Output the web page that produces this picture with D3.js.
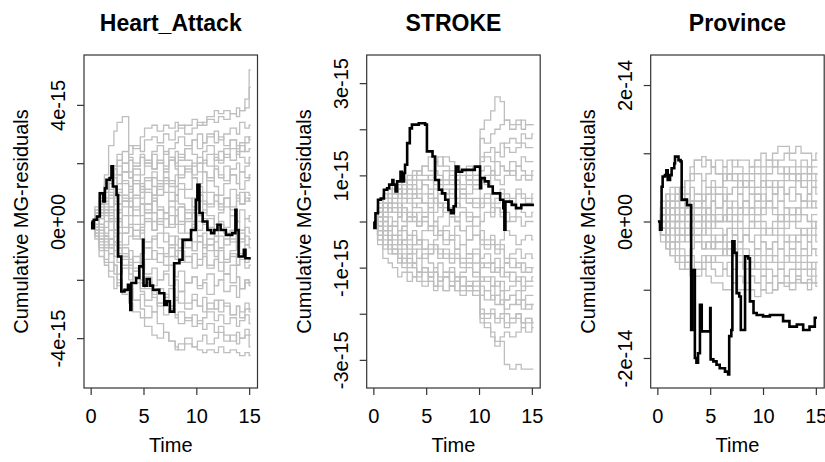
<!DOCTYPE html>
<html>
<head>
<meta charset="utf-8">
<script src="https://cdn.jsdelivr.net/npm/d3@7"></script>
<style>
  body { margin: 0; background: #fff; }
  text { font-family: "Liberation Sans", Arial, sans-serif; fill: #000; }
</style>
</head>
<body>
<svg id="chart" width="825" height="462"></svg>
<script>
// Event times at which the simulated residual processes jump (one grid per covariate)
const heartTimes    = [0.1,0.4,0.8,1.3,1.7,2.2,2.5,3.0,3.6,4.0,4.7,5.1,5.8,6.3,6.9,7.4,8.0,8.3,8.9,9.6,10.1,10.6,11.0,11.7,12.1,12.6,13.2,13.8,14.1,14.6,15.0];
const strokeTimes   = [0.1,0.4,0.9,1.4,1.8,2.3,2.7,3.2,3.7,4.1,4.6,5.2,5.7,6.1,6.6,7.2,7.7,8.2,8.8,9.4,10.1,10.5,11.1,11.5,12.0,12.4,12.9,13.5,14.0,14.4,15.0];
const provinceTimes = [0.1,0.3,0.8,1.2,1.7,2.1,2.6,3.1,3.5,4.2,4.6,5.1,5.5,6.2,6.6,7.1,7.6,8.1,8.7,9.2,9.8,10.3,10.9,11.4,12.0,12.5,13.1,13.6,14.2,14.6,15.0];
const timeEnd = 15.15;

const xTicks = [0, 5, 10, 15];
const xTickLabels = ["0", "5", "10", "15"];

// ---- Heart_Attack (units of 1e-15) ----
const heartSims = [
  [0,0.4,1.0,1.6,2.6,3.1,3.4,3.6,2.2,2.0,2.3,2.1,1.8,2.0,2.4,2.2,1.9,2.1,2.5,2.3,2.0,2.4,2.6,2.3,2.1,2.5,2.8,2.6,2.4,2.7,2.9],
  [0,0.2,0.6,1.1,1.5,1.9,2.1,2.4,2.6,2.5,2.9,3.2,3.3,3.1,3.3,3.2,3.4,3.2,3.3,3.5,3.3,3.4,3.6,3.8,3.7,3.8,3.7,3.9,3.8,3.9,5.2],
  [0,0.3,0.7,1.2,1.4,1.8,1.6,2.0,2.3,2.6,2.4,2.8,2.9,2.7,3.0,2.8,3.1,3.3,3.0,3.2,3.4,3.3,3.5,3.4,3.6,3.5,3.7,3.6,3.8,4.2,4.6],
  [0,-0.1,0.3,0.8,1.3,1.6,1.9,1.7,2.1,1.9,2.2,2.0,2.4,2.6,2.3,2.5,2.7,2.9,2.6,2.8,3.0,2.7,2.9,3.1,2.8,3.0,3.2,3.0,3.4,3.2,3.3],
  [0,0.5,0.9,1.3,1.1,1.5,1.3,1.7,1.5,1.8,1.6,2.0,1.8,2.1,1.9,2.2,2.0,2.3,2.1,1.9,2.2,2.0,2.3,2.1,2.4,2.2,2.5,2.3,2.6,2.4,2.5],
  [0,0.2,0.5,0.3,0.8,1.2,1.0,1.4,1.2,1.6,1.3,1.1,1.5,1.3,1.7,1.4,1.2,1.6,1.8,1.5,1.3,1.7,1.5,1.9,1.6,1.4,1.8,2.0,1.7,1.9,2.0],
  [0,-0.2,0.1,0.4,0.2,0.6,0.9,0.7,1.1,0.8,1.2,1.0,0.7,1.1,1.4,1.2,0.9,1.3,1.1,1.5,1.2,1.0,1.4,1.2,0.9,1.3,1.6,1.3,1.1,1.4,1.5],
  [0,0.3,0.1,0.5,0.3,0.0,0.4,0.7,0.5,0.2,0.6,0.4,0.8,0.5,0.3,0.7,0.9,0.6,0.4,0.8,1.0,0.7,0.5,0.9,0.6,0.8,1.1,0.8,0.6,1.0,0.9],
  [0,0.1,-0.3,0.0,0.4,0.1,-0.2,0.2,0.5,0.2,-0.1,0.3,0.0,0.4,0.1,-0.2,0.2,0.5,0.1,0.3,0.0,0.4,0.2,-0.1,0.3,0.5,0.2,0.0,0.4,0.1,0.2],
  [0,-0.3,-0.1,-0.4,0.0,-0.3,0.1,-0.2,0.2,-0.1,-0.4,0.0,-0.3,0.1,-0.2,0.2,-0.1,-0.4,0.0,-0.2,0.2,-0.1,0.1,-0.3,0.0,-0.2,0.2,0.0,-0.3,0.1,0.0],
  [0,0.2,-0.2,-0.5,-0.3,-0.7,-0.4,-0.8,-0.5,-0.3,-0.6,-0.9,-0.6,-0.4,-0.7,-0.5,-0.8,-0.6,-0.9,-0.7,-0.5,-0.8,-1.0,-0.7,-0.5,-0.8,-0.6,-0.9,-0.7,-0.5,-0.6],
  [0,-0.4,-0.7,-0.5,-0.9,-1.2,-0.9,-1.3,-1.0,-1.4,-1.1,-0.9,-1.3,-1.1,-1.5,-1.2,-1.0,-1.4,-1.2,-1.6,-1.3,-1.1,-1.5,-1.3,-1.7,-1.4,-1.2,-1.5,-1.3,-1.6,-1.5],
  [0,-0.5,-0.9,-1.3,-1.1,-1.5,-1.8,-1.6,-2.0,-1.7,-2.1,-1.9,-2.2,-2.0,-1.8,-2.2,-2.0,-2.4,-2.1,-1.9,-2.3,-2.1,-2.5,-2.2,-2.0,-2.4,-2.2,-2.6,-2.3,-2.1,-2.2],
  [0,-0.6,-1.2,-1.5,-1.9,-2.3,-2.1,-2.5,-2.8,-3.1,-3.3,-3.6,-3.9,-4.0,-3.8,-4.1,-4.3,-4.4,-4.2,-4.3,-4.4,-4.5,-4.4,-4.5,-4.3,-4.5,-4.4,-4.5,-4.6,-4.5,-4.6],
  [0,-0.3,-0.8,-1.4,-1.7,-1.5,-2.0,-2.4,-2.2,-2.7,-3.0,-3.3,-3.1,-3.5,-3.8,-4.1,-4.4,-4.2,-4.0,-4.3,-4.1,-3.9,-4.2,-4.0,-3.8,-4.1,-3.9,-4.2,-4.0,-3.9,-4.3],
  [0,-0.2,-0.6,-1.0,-1.4,-1.8,-2.2,-2.5,-2.3,-2.7,-2.5,-2.9,-3.1,-2.8,-3.2,-3.0,-3.3,-3.1,-3.4,-3.2,-3.5,-3.3,-3.1,-3.4,-3.2,-3.5,-3.3,-3.6,-3.4,-3.2,-3.5],
  [0,0.1,-0.4,-0.8,-0.6,-1.0,-1.4,-1.2,-1.6,-1.9,-2.3,-2.1,-2.5,-2.3,-2.7,-2.9,-2.6,-2.8,-3.0,-2.7,-2.9,-3.1,-2.8,-3.0,-2.7,-2.9,-3.2,-2.9,-3.1,-2.8,-3.0],
  [0,-0.4,-0.2,-0.6,-0.9,-0.7,-1.1,-0.9,-1.3,-1.6,-1.4,-1.8,-1.6,-2.0,-1.7,-1.5,-1.9,-1.7,-2.1,-1.9,-2.2,-2.0,-1.8,-2.2,-2.0,-1.8,-2.1,-1.9,-2.3,-2.0,-2.1],
  [0,0.3,0.6,0.4,0.1,-0.3,0.0,-0.4,-0.2,-0.6,-0.3,-0.7,-0.5,-0.9,-1.2,-0.9,-1.3,-1.0,-1.4,-1.1,-1.5,-1.2,-1.6,-1.3,-1.0,-1.4,-1.1,-1.5,-1.2,-1.4,-1.3],
  [0,0.4,0.8,1.2,1.0,0.7,1.1,0.8,0.5,0.9,0.6,0.3,0.7,0.4,0.1,0.5,0.2,-0.1,0.3,0.0,-0.3,0.1,-0.2,-0.5,-0.1,-0.4,-0.7,-0.3,-0.6,-0.2,-0.4],
  [0,0.2,0.6,1.0,1.4,1.2,1.6,1.3,1.0,1.4,1.1,1.5,1.2,0.9,1.3,1.0,0.7,1.1,0.8,0.5,0.9,0.6,1.0,0.7,0.4,0.8,0.5,0.9,0.6,0.8,0.7],
  [0,-0.1,0.3,0.7,0.5,0.9,1.3,1.7,1.5,1.9,2.2,1.9,2.3,2.0,1.7,2.1,1.8,1.5,1.9,1.6,2.0,1.7,1.4,1.8,1.5,1.9,1.6,1.3,1.7,1.5,1.6],
  [0,0.3,-0.1,-0.5,-0.8,-0.5,-0.9,-1.2,-1.5,-1.2,-1.6,-1.3,-1.0,-1.4,-1.1,-0.8,-1.2,-0.9,-0.6,-1.0,-0.7,-0.4,-0.8,-0.5,-0.9,-0.6,-0.3,-0.7,-0.4,-0.8,-0.6],
  [0,-0.2,0.2,0.6,0.9,0.6,0.3,0.7,1.0,1.3,1.0,1.4,1.7,1.4,1.8,2.1,2.4,2.2,2.5,2.8,2.5,2.7,3.0,2.7,2.9,2.6,2.8,2.5,2.7,2.9,2.8],
  [0,-0.5,-1.0,-0.7,-1.1,-0.8,-1.2,-1.5,-1.8,-2.1,-2.4,-2.7,-2.4,-2.8,-2.5,-2.9,-3.2,-3.5,-3.3,-3.6,-3.4,-3.7,-3.5,-3.8,-3.6,-3.9,-4.1,-3.8,-4.0,-3.7,-3.9],
  [0,0.1,0.4,0.2,0.5,0.8,0.6,0.9,0.7,0.4,0.8,1.1,0.9,1.2,1.5,1.3,1.6,1.9,1.7,2.0,1.7,2.1,1.9,2.2,2.0,2.3,2.1,2.4,2.2,2.0,2.2],
  [0,-0.3,-0.6,-0.9,-0.6,-0.3,-0.7,-0.4,-0.1,-0.5,-0.2,0.1,-0.3,0.0,0.3,-0.1,0.2,0.5,0.1,0.4,0.7,0.3,0.6,0.9,0.5,0.8,0.4,0.7,1.0,0.7,0.8],
  [0,0.2,-0.1,0.3,0.0,-0.4,-0.8,-1.1,-1.4,-1.7,-2.0,-2.3,-2.6,-2.9,-2.6,-2.3,-2.7,-2.4,-2.8,-2.5,-2.9,-2.6,-3.0,-2.7,-3.1,-2.8,-3.2,-2.9,-3.3,-3.0,-3.1],
  [0,0.3,0.7,1.1,1.5,1.9,2.3,2.0,1.7,1.3,1.0,0.6,0.3,-0.1,-0.4,-0.8,-0.5,-0.9,-0.6,-1.0,-0.7,-1.1,-0.8,-1.2,-0.9,-1.3,-1.0,-0.7,-1.1,-0.8,-0.9],
  [0,-0.2,-0.5,-0.2,0.1,0.4,0.1,0.5,0.8,0.5,0.2,0.6,0.9,1.3,1.0,0.7,0.4,0.0,-0.4,-0.1,-0.5,-0.9,-0.6,-1.0,-1.4,-1.8,-1.5,-1.9,-2.3,-2.0,-2.1]
];
const heartObsTime  = [0.1,0.15,0.3,0.6,0.87,1.2,1.35,1.5,1.8,1.97,2.1,2.45,2.6,2.9,3.2,3.53,3.75,3.85,4.3,4.6,4.95,5.0,5.3,5.6,5.9,6.5,6.97,7.2,7.5,7.9,8.4,8.7,9.5,9.95,10.1,10.3,10.6,11.05,11.4,11.7,12.0,12.3,12.8,13.4,13.7,13.8,14.0,14.5,14.65,15.15];
const heartObsValue = [0,-0.23,0.06,0.17,0.97,0.69,1.14,1.43,1.49,1.89,1.2,0.91,-1.2,-2.4,-2.34,-2.17,-3.03,-2.11,-1.94,-1.54,-0.63,-2.2,-1.97,-2.2,-2.34,-2.46,-2.86,-2.74,-3.09,-1.43,-1.31,-0.63,-0.29,0.74,1.26,0.29,0,-0.29,-0.4,-0.29,-0.11,-0.29,-0.46,-0.4,0.4,-0.29,-1.2,-0.97,-1.26,-1.26];
const heartTicks = [-4, -2, 0, 2, 4];
const heartTickLabels = ["-4e-15", "", "0e+00", "", "4e-15"];

// ---- STROKE (units of 1e-15) ----
const strokeSims = [
  [0,0.3,0.5,0.7,0.6,0.8,0.9,0.8,1.0,1.1,1.2,1.4,1.3,1.2,1.4,1.3,1.2,1.1,1.2,1.0,2.0,2.2,2.4,2.7,2.6,2.2,2.1,2.2,2.0,2.1,2.1],
  [0,0.2,0.4,0.3,0.5,0.7,0.6,0.9,1.1,1.0,1.2,1.1,1.3,1.4,1.2,1.1,1.0,1.1,0.9,1.0,1.8,1.7,1.9,2.0,2.1,2.2,2.0,2.1,2.2,2.1,2.1],
  [0,0.1,0.3,0.5,0.4,0.6,0.5,0.7,0.8,0.6,0.9,1.0,0.8,0.9,1.1,0.9,0.8,1.0,0.9,0.8,1.4,1.5,1.6,1.5,1.7,1.6,1.5,1.6,1.7,1.6,1.6],
  [0,0.3,0.2,0.4,0.6,0.5,0.7,0.6,0.5,0.7,0.8,0.6,0.7,0.9,0.8,1.0,0.9,0.8,1.0,0.9,1.1,1.2,1.0,1.3,1.2,1.1,1.3,1.2,1.4,1.3,1.3],
  [0,-0.1,0.2,0.4,0.3,0.2,0.4,0.5,0.3,0.4,0.6,0.5,0.4,0.6,0.7,0.6,0.5,0.7,0.6,0.8,0.9,0.8,1.0,0.9,0.8,1.0,1.1,0.9,1.0,0.9,1.0],
  [0,0.2,0.1,0.3,0.2,0.1,0.3,0.2,0.4,0.3,0.2,0.4,0.5,0.3,0.4,0.2,0.3,0.5,0.4,0.3,0.5,0.6,0.4,0.5,0.7,0.6,0.5,0.7,0.6,0.5,0.6],
  [0,-0.2,0.0,0.1,-0.1,0.1,0.0,0.2,0.1,-0.1,0.1,0.2,0.0,0.1,0.3,0.1,0.0,0.2,0.1,-0.1,0.0,0.2,0.1,0.3,0.2,0.0,0.1,0.3,0.2,0.1,0.2],
  [0,0.1,-0.2,-0.1,-0.3,-0.2,-0.1,-0.3,-0.2,-0.4,-0.2,-0.1,-0.3,-0.2,-0.4,-0.3,-0.1,-0.2,-0.4,-0.3,-0.2,-0.4,-0.3,-0.5,-0.4,-0.2,-0.3,-0.5,-0.4,-0.3,-0.4],
  [0,-0.3,-0.2,-0.4,-0.3,-0.5,-0.4,-0.6,-0.5,-0.4,-0.6,-0.7,-0.5,-0.6,-0.8,-0.7,-0.6,-0.8,-0.7,-0.9,-0.8,-0.7,-0.9,-0.8,-1.0,-0.9,-0.8,-1.0,-0.9,-1.1,-1.0],
  [0,-0.4,-0.6,-0.5,-0.7,-0.9,-0.8,-1.0,-0.9,-1.1,-1.0,-1.2,-1.1,-1.3,-1.2,-1.1,-1.3,-1.2,-1.4,-1.3,-1.6,-1.7,-1.6,-1.8,-1.7,-1.9,-1.8,-1.7,-1.9,-1.8,-1.8],
  [0,-0.5,-0.8,-0.9,-1.0,-1.2,-1.1,-1.3,-1.2,-1.3,-1.4,-1.3,-1.5,-1.4,-1.5,-1.4,-1.5,-1.6,-1.5,-1.6,-2.2,-2.3,-2.5,-2.7,-2.6,-3.1,-3.2,-3.1,-3.2,-3.2,-3.2],
  [0,-0.2,-0.4,-0.6,-0.5,-0.7,-0.9,-0.8,-1.0,-1.2,-1.1,-1.3,-1.4,-1.3,-1.5,-1.4,-1.3,-1.5,-1.4,-1.5,-2.0,-2.1,-2.0,-2.2,-2.1,-2.3,-2.2,-2.1,-2.3,-2.2,-2.3],
  [0,-0.1,-0.3,-0.2,-0.4,-0.3,-0.5,-0.7,-0.6,-0.8,-0.7,-0.9,-1.0,-0.9,-1.1,-1.0,-1.2,-1.1,-1.0,-1.2,-1.4,-1.5,-1.4,-1.6,-1.5,-1.7,-1.6,-1.5,-1.7,-1.6,-1.6],
  [0,0.2,0.0,-0.2,-0.1,-0.3,-0.2,-0.4,-0.3,-0.5,-0.4,-0.6,-0.5,-0.7,-0.6,-0.8,-0.7,-0.9,-0.8,-0.7,-1.2,-1.3,-1.2,-1.4,-1.3,-1.5,-1.4,-1.3,-1.5,-1.4,-1.4],
  [0,0.3,0.4,0.2,0.3,0.1,0.2,0.0,0.1,-0.1,0.0,-0.2,-0.1,-0.3,-0.2,-0.4,-0.3,-0.5,-0.4,-0.3,-0.5,-0.6,-0.5,-0.7,-0.6,-0.8,-0.7,-0.6,-0.8,-0.7,-0.8],
  [0,0.4,0.6,0.5,0.7,0.6,0.8,0.7,0.6,0.5,0.4,0.3,0.5,0.4,0.2,0.3,0.1,0.2,0.0,0.1,0.4,0.5,0.3,0.4,0.6,0.5,0.4,0.6,0.5,0.4,0.5],
  [0,-0.3,-0.1,-0.3,-0.5,-0.4,-0.6,-0.5,-0.7,-0.6,-0.8,-0.7,-0.6,-0.8,-0.7,-0.9,-0.8,-1.0,-0.9,-1.1,-1.3,-1.2,-1.4,-1.3,-1.5,-2.0,-2.1,-2.0,-2.2,-2.1,-2.2],
  [0,0.1,0.3,0.2,0.4,0.3,0.5,0.4,0.6,0.5,0.4,0.6,0.5,0.7,0.6,0.5,0.7,0.6,0.5,0.4,0.9,1.0,1.1,1.0,1.2,1.1,1.0,1.2,1.1,1.0,1.1],
  [0,-0.2,-0.5,-0.4,-0.6,-0.8,-1.0,-1.1,-1.2,-1.1,-1.3,-1.2,-1.4,-1.3,-1.2,-1.4,-1.5,-1.4,-1.5,-1.4,-1.6,-1.5,-1.7,-1.6,-1.8,-1.7,-1.6,-1.8,-1.7,-1.9,-1.8],
  [0,0.3,0.5,0.6,0.8,0.7,0.6,0.8,0.7,0.9,0.8,0.7,0.9,0.8,0.6,0.7,0.5,0.6,0.4,0.5,0.3,0.4,0.2,0.3,0.1,0.2,0.0,0.1,-0.1,0.0,0.0],
  [0,0.0,-0.2,-0.4,-0.3,-0.5,-0.4,-0.3,-0.5,-0.4,-0.6,-0.5,-0.4,-0.3,-0.5,-0.4,-0.6,-0.5,-0.7,-0.6,-2.1,-2.2,-2.4,-2.6,-2.5,-2.4,-2.5,-2.4,-2.3,-2.4,-2.3],
  [0,0.2,0.4,0.3,0.2,0.4,0.3,0.1,0.2,0.0,0.1,-0.1,0.0,-0.2,-0.1,0.1,0.0,-0.2,-0.1,-0.3,-0.9,-1.0,-0.9,-1.1,-1.0,-1.2,-1.1,-1.3,-1.2,-1.3,-1.2],
  [0,-0.4,-0.3,-0.5,-0.7,-0.6,-0.8,-0.7,-0.9,-0.8,-1.0,-1.1,-1.0,-1.2,-1.1,-1.3,-1.2,-1.4,-1.3,-1.5,-1.0,-0.9,-1.1,-1.0,-1.2,-1.1,-1.3,-1.2,-1.4,-1.3,-1.3],
  [0,0.1,0.2,0.4,0.5,0.7,0.8,1.0,0.9,1.1,1.0,0.9,1.1,1.0,0.9,0.8,0.9,0.7,0.8,0.7,1.3,1.4,1.3,1.5,1.4,1.7,1.8,1.7,1.9,1.8,1.9],
  [0,-0.1,0.1,-0.1,0.0,-0.2,-0.1,0.1,0.0,0.2,0.1,0.3,0.2,0.4,0.3,0.2,0.4,0.3,0.2,0.1,-0.4,-0.5,-0.4,-0.6,-0.5,-0.9,-1.0,-0.9,-1.1,-1.0,-1.0],
  [0,-0.3,-0.5,-0.7,-0.6,-0.8,-0.7,-0.9,-1.0,-1.1,-1.0,-1.2,-1.1,-1.3,-1.2,-1.4,-1.3,-1.2,-1.4,-1.3,-1.9,-2.0,-1.9,-2.1,-2.0,-2.2,-2.1,-2.0,-2.2,-2.1,-2.2]
];
const strokeObsTime  = [0.06,0.1,0.2,0.44,0.7,1.0,1.3,1.5,1.8,1.9,2.1,2.25,2.57,2.7,2.9,3.0,3.2,3.45,3.65,4.3,4.9,5.07,5.6,5.85,6.2,6.5,6.8,7.1,7.35,7.6,7.8,8.05,8.4,9.6,10.1,10.2,10.55,10.9,11.3,12.0,12.3,12.4,12.5,13.1,13.5,14.0,15.2];
const strokeObsValue = [0,-0.14,0.18,0.47,0.5,0.69,0.72,0.8,0.9,0.8,0.65,0.87,1.08,0.87,1.05,1.23,1.7,2.02,2.1,2.13,2.1,1.52,1.41,0.9,0.69,0.61,0.47,0.25,0.18,0.33,1.19,1.08,1.12,1.19,0.72,0.94,0.87,0.76,0.61,0.47,0.29,-0.18,0.43,0.36,0.29,0.36,0.36];
const strokeTicks = [-3, -2, -1, 0, 1, 2, 3];
const strokeTickLabels = ["-3e-15", "", "-1e-15", "", "1e-15", "", "3e-15"];

// ---- Province (units of 1e-14) ----
const provinceSims = [
  [0,0.2,0.4,0.3,0.5,0.4,0.6,0.8,0.9,0.8,0.9,0.8,0.9,0.8,0.9,0.8,0.9,0.9,0.8,0.9,1.0,0.9,1.0,1.1,1.1,1.0,1.1,1.0,1.0,0.9,1.0],
  [0,0.1,0.3,0.4,0.3,0.5,0.4,0.6,0.7,0.6,0.7,0.8,0.7,0.8,0.7,0.9,0.8,0.7,0.8,0.9,0.8,0.9,0.8,0.9,1.0,0.9,0.8,0.9,0.8,0.9,0.9],
  [0,0.2,0.1,0.3,0.2,0.4,0.3,0.5,0.4,0.6,0.5,0.6,0.5,0.7,0.6,0.7,0.6,0.5,0.6,0.7,0.6,0.7,0.8,0.7,0.8,0.7,0.6,0.7,0.8,0.7,0.7],
  [0,-0.1,0.1,0.2,0.1,0.3,0.2,0.3,0.4,0.3,0.4,0.5,0.4,0.5,0.4,0.5,0.6,0.5,0.6,0.5,0.6,0.5,0.6,0.5,0.6,0.7,0.6,0.5,0.6,0.5,0.6],
  [0,0.1,0.0,0.2,0.1,0.0,0.2,0.1,0.3,0.2,0.1,0.3,0.2,0.4,0.3,0.2,0.4,0.3,0.2,0.4,0.3,0.5,0.4,0.3,0.4,0.5,0.4,0.3,0.4,0.5,0.4],
  [0,0.0,-0.1,0.1,0.0,0.1,-0.1,0.0,0.1,0.0,0.2,0.1,0.0,0.1,0.2,0.1,0.2,0.3,0.2,0.1,0.2,0.3,0.2,0.3,0.2,0.1,0.2,0.3,0.2,0.3,0.2],
  [0,-0.2,-0.1,0.0,-0.1,-0.2,-0.1,0.0,-0.1,0.1,0.0,-0.1,0.0,0.1,0.0,-0.1,0.0,0.1,0.0,0.1,0.0,-0.1,0.0,0.1,0.0,0.1,0.2,0.1,0.0,0.1,0.1],
  [0,-0.1,-0.2,-0.1,-0.3,-0.2,-0.3,-0.2,-0.1,-0.2,-0.1,-0.2,-0.3,-0.2,-0.1,-0.2,-0.1,-0.2,-0.1,0.0,-0.1,-0.2,-0.1,0.0,-0.1,0.0,-0.1,-0.2,-0.1,0.0,-0.1],
  [0,-0.2,-0.3,-0.4,-0.3,-0.4,-0.5,-0.4,-0.3,-0.4,-0.3,-0.4,-0.3,-0.2,-0.3,-0.4,-0.3,-0.2,-0.3,-0.2,-0.3,-0.4,-0.3,-0.2,-0.3,-0.2,-0.3,-0.2,-0.3,-0.2,-0.3],
  [0,-0.3,-0.4,-0.5,-0.6,-0.5,-0.6,-0.7,-0.6,-0.7,-0.6,-0.7,-0.8,-0.7,-0.8,-0.9,-0.8,-0.9,-0.8,-0.9,-0.8,-0.9,-0.8,-0.9,-0.8,-0.9,-0.8,-0.9,-0.9,-0.8,-0.9],
  [0,-0.1,-0.3,-0.5,-0.6,-0.7,-0.6,-0.7,-0.8,-0.7,-0.8,-0.9,-0.9,-1.0,-1.0,-0.9,-1.0,-1.0,-1.0,-1.1,-1.0,-0.9,-1.0,-0.9,-0.9,-1.0,-0.9,-0.9,-1.0,-0.9,-0.95],
  [0,-0.2,-0.2,-0.3,-0.4,-0.5,-0.6,-0.5,-0.6,-0.5,-0.6,-0.5,-0.6,-0.7,-0.6,-0.7,-0.6,-0.7,-0.6,-0.7,-0.8,-0.7,-0.8,-0.7,-0.8,-0.7,-0.8,-0.7,-0.8,-0.7,-0.8],
  [0,0.1,0.2,0.1,0.0,-0.1,-0.2,-0.1,-0.2,-0.3,-0.4,-0.3,-0.4,-0.5,-0.4,-0.5,-0.4,-0.5,-0.6,-0.5,-0.6,-0.5,-0.6,-0.7,-0.6,-0.5,-0.6,-0.5,-0.6,-0.7,-0.6],
  [0,0.2,0.3,0.2,0.1,0.2,0.1,0.0,0.1,0.0,-0.1,0.0,-0.1,-0.2,-0.1,-0.2,-0.3,-0.2,-0.3,-0.4,-0.3,-0.4,-0.3,-0.4,-0.5,-0.4,-0.3,-0.4,-0.3,-0.4,-0.4],
  [0,0.3,0.4,0.5,0.4,0.3,0.4,0.3,0.2,0.3,0.2,0.1,0.2,0.1,0.0,0.1,0.0,-0.1,0.0,-0.1,-0.2,-0.1,-0.2,-0.1,-0.2,-0.3,-0.2,-0.1,-0.2,-0.1,-0.2],
  [0,0.1,0.2,0.3,0.4,0.5,0.6,0.7,0.9,0.95,0.9,0.8,0.7,0.6,0.7,0.6,0.5,0.6,0.5,0.4,0.5,0.6,0.5,0.6,0.7,0.6,0.7,0.8,0.7,0.8,0.8],
  [0,-0.1,0.0,0.1,0.2,0.1,0.2,0.3,0.2,0.3,0.4,0.3,0.2,0.3,0.2,0.1,0.2,0.1,0.2,0.3,0.4,0.3,0.4,0.5,0.4,0.5,0.6,0.5,0.4,0.5,0.5],
  [0,0.0,-0.2,-0.3,-0.2,-0.3,-0.2,-0.1,-0.2,-0.1,0.0,0.1,0.0,0.1,0.2,0.3,0.2,0.3,0.4,0.3,0.2,0.3,0.2,0.1,0.2,0.1,0.0,0.1,0.0,-0.1,0.0],
  [0,-0.2,-0.4,-0.3,-0.5,-0.6,-0.7,-0.8,-0.7,-0.6,-0.5,-0.6,-0.5,-0.4,-0.5,-0.4,-0.5,-0.6,-0.7,-0.6,-0.7,-0.6,-0.5,-0.6,-0.5,-0.6,-0.7,-0.6,-0.7,-0.6,-0.6],
  [0,0.2,0.0,-0.1,0.0,0.1,0.2,0.1,0.0,0.1,0.2,0.3,0.4,0.3,0.4,0.5,0.4,0.5,0.4,0.5,0.6,0.5,0.4,0.5,0.4,0.3,0.4,0.3,0.4,0.3,0.3],
  [0,-0.1,-0.2,-0.1,-0.2,-0.1,0.0,-0.1,0.0,-0.1,-0.2,-0.3,-0.2,-0.3,-0.4,-0.5,-0.6,-0.7,-0.8,-0.9,-1.0,-1.05,-1.0,-0.9,-0.95,-0.9,-0.85,-0.9,-0.85,-0.9,-0.9],
  [0,0.1,0.3,0.2,0.3,0.2,0.1,0.2,0.1,0.2,0.1,0.0,0.1,0.0,0.1,0.0,0.1,0.2,0.1,0.2,0.1,0.2,0.1,0.0,0.1,0.2,0.1,0.2,0.3,0.2,0.2],
  [0,-0.1,-0.1,-0.2,-0.1,0.0,0.1,0.2,0.3,0.4,0.5,0.4,0.5,0.6,0.7,0.6,0.7,0.6,0.7,0.8,0.7,0.8,0.9,0.8,0.7,0.8,0.7,0.6,0.7,0.6,0.7],
  [0,0.0,0.1,0.0,-0.1,-0.2,-0.1,-0.2,-0.3,-0.4,-0.3,-0.4,-0.3,-0.4,-0.3,-0.2,-0.3,-0.4,-0.5,-0.4,-0.5,-0.4,-0.5,-0.4,-0.3,-0.4,-0.5,-0.4,-0.5,-0.4,-0.5]
];
const provinceObsTime  = [0.05,0.25,0.4,0.5,0.72,0.85,0.98,1.2,1.35,1.6,1.67,2.0,2.2,2.3,2.8,3.2,3.3,3.55,3.7,3.85,4.03,4.2,5.0,5.04,5.3,5.6,5.9,6.4,6.7,6.8,7.0,7.1,7.3,7.5,7.75,7.9,8.3,8.6,8.76,9.1,9.4,10.0,10.65,11.3,11.9,12.5,13.2,13.8,14.4,14.9,15.1];
const provinceObsValue = [0,-0.12,0.51,0.66,0.68,0.75,0.61,0.68,0.78,0.85,0.95,0.9,0.88,0.32,0.24,-1.59,-0.71,-2.0,-2.07,-1.93,-1.22,-1.61,-1.27,-2.02,-2.05,-2.1,-2.15,-2.2,-2.24,-1.68,-1.59,-0.29,-0.46,-1.05,-1.1,-1.59,-0.51,-0.54,-1.17,-1.34,-1.37,-1.39,-1.37,-1.37,-1.46,-1.54,-1.51,-1.59,-1.54,-1.41,-1.41];
const provinceTicks = [-2, -1, 0, 1, 2];
const provinceTickLabels = ["-2e-14", "", "0e+00", "", "2e-14"];

// ---- layout ----
const plotTop = 55, plotBottom = 388, boxW = 173.5;
const panels = [
  { title: "Heart_Attack", left: 84,    unit: 1e-15, half: 5.71, times: heartTimes,    sims: heartSims,    obsT: heartObsTime,    obsV: heartObsValue,    ticks: heartTicks,    labels: heartTickLabels },
  { title: "STROKE",       left: 366.7, unit: 1e-15, half: 3.61, times: strokeTimes,   sims: strokeSims,   obsT: strokeObsTime,   obsV: strokeObsValue,   ticks: strokeTicks,   labels: strokeTickLabels },
  { title: "Province",     left: 650.7, unit: 1e-14, half: 2.44, times: provinceTimes, sims: provinceSims, obsT: provinceObsTime, obsV: provinceObsValue, ticks: provinceTicks, labels: provinceTickLabels }
];

const svg = d3.select("#chart");

panels.forEach(p => {
  const x = d3.scaleLinear().domain([-0.63, 15.79]).range([p.left, p.left + boxW]);
  const y = d3.scaleLinear().domain([-p.half * p.unit, p.half * p.unit]).range([plotBottom, plotTop]);
  const g = svg.append("g");

  const step = d3.line().curve(d3.curveStepAfter).x(d => x(d[0])).y(d => y(d[1] * p.unit));

  // simulated processes
  g.append("g").selectAll("path")
    .data(p.sims)
    .join("path")
    .attr("d", vals => {
      const pts = p.times.map((t, i) => [t, vals[i]]);
      pts.push([timeEnd, vals[vals.length - 1]]);
      return step(pts);
    })
    .attr("fill", "none")
    .attr("stroke", "#bebebe")
    .attr("stroke-width", 1.3);

  // observed process
  g.append("path")
    .attr("d", step(p.obsT.map((t, i) => [t, p.obsV[i]])))
    .attr("fill", "none")
    .attr("stroke", "#000")
    .attr("stroke-width", 2.6);

  // frame
  g.append("rect")
    .attr("x", p.left).attr("y", plotTop)
    .attr("width", boxW).attr("height", plotBottom - plotTop)
    .attr("fill", "none").attr("stroke", "#333").attr("stroke-width", 1.2);

  // x axis
  const xa = g.append("g").attr("transform", `translate(0,${plotBottom})`)
    .call(d3.axisBottom(x).tickValues(xTicks).tickFormat((d, i) => xTickLabels[i]).tickSize(7).tickPadding(14));
  xa.select(".domain").remove();
  xa.selectAll("line").attr("stroke", "#333").attr("stroke-width", 1.2);
  xa.selectAll("text").attr("font-size", 20).attr("font-family", "Liberation Sans, Arial, sans-serif").attr("fill", "#000");

  // y axis with labels parallel to the axis
  const ya = g.append("g").attr("transform", `translate(${p.left},0)`)
    .call(d3.axisLeft(y).tickValues(p.ticks.map(v => v * p.unit)).tickFormat((d, i) => p.labels[i]).tickSize(7));
  ya.select(".domain").remove();
  ya.selectAll("line").attr("stroke", "#333").attr("stroke-width", 1.2);
  ya.selectAll("text")
    .attr("x", null).attr("dy", null)
    .attr("transform", "translate(-19,0) rotate(-90)")
    .attr("text-anchor", "middle")
    .attr("font-size", 20)
    .attr("font-family", "Liberation Sans, Arial, sans-serif")
    .attr("fill", "#000");

  // titles
  g.append("text")
    .attr("x", p.left + boxW / 2).attr("y", 30.5)
    .attr("text-anchor", "middle")
    .attr("font-size", 23).attr("font-weight", "bold")
    .text(p.title);

  g.append("text")
    .attr("x", p.left + boxW / 2).attr("y", 452)
    .attr("text-anchor", "middle")
    .attr("font-size", 20)
    .text("Time");

  g.append("text")
    .attr("transform", `translate(${p.left - 56},${(plotTop + plotBottom) / 2}) rotate(-90)`)
    .attr("text-anchor", "middle")
    .attr("font-size", 20)
    .text("Cumulative MG-residuals");
});
</script>
</body>
</html>
